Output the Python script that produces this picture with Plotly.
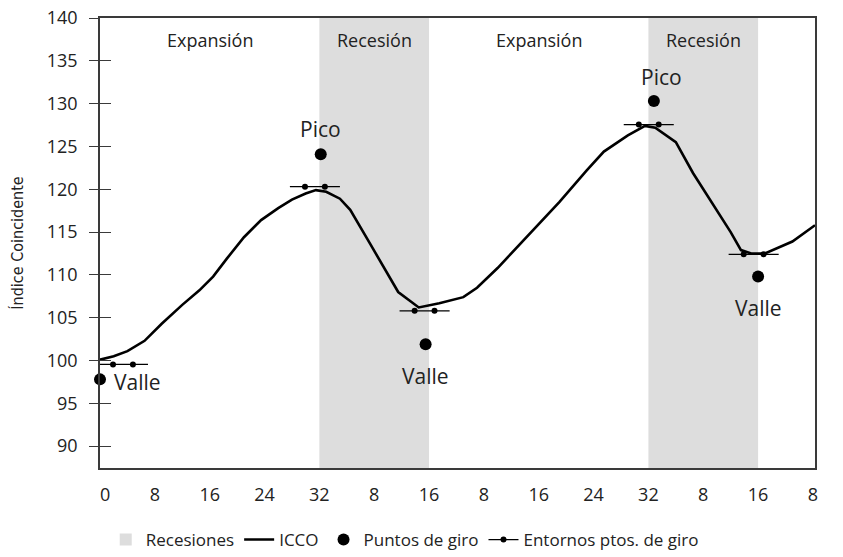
import plotly.graph_objects as go

# ---------------- data ----------------
tick_vals = [0, 8, 16, 24, 32, 40, 48, 56, 64, 72, 80, 88, 96, 104]
tick_text = ["0", "8", "16", "24", "32", "8", "16", "8", "16", "24", "32", "8", "16", "8"]

icco_x = [0, 2, 4, 6.5, 9, 12, 14.5, 16.5, 18.5, 21, 23.5, 26, 28, 30, 31.5, 33, 35, 36.5,
          39.5, 41.5, 43.5, 46.5, 49.5, 53, 55, 58, 61, 64, 67, 71, 73.5, 77, 79.5, 81,
          84, 86.5, 89.5, 92, 93.5, 95, 97, 101, 104.3]
icco_y = [100.1, 100.5, 101.1, 102.3, 104.3, 106.5, 108.2, 109.8, 111.9, 114.4, 116.4, 117.8,
          118.8, 119.5, 119.9, 119.7, 118.9, 117.6, 113.5, 110.8, 108.0, 106.2, 106.7, 107.4,
          108.5, 110.8, 113.4, 116.0, 118.5, 122.2, 124.4, 126.3, 127.4, 127.2, 125.5, 121.9,
          118.2, 115.0, 112.9, 112.5, 112.5, 113.9, 115.8]

giro_x = [0, 32.2, 47.5, 80.8, 96]
giro_y = [97.8, 124.1, 101.9, 130.3, 109.8]
giro_labels = ["Valle", "Pico", "Valle", "Pico", "Valle"]

entorno_left = [1.9, 29.9, 45.9, 78.6, 93.9]
entorno_right = [4.8, 32.8, 48.8, 81.5, 96.8]
entorno_y = [99.55, 120.3, 105.8, 127.55, 112.4]

recession_start = [32, 80]
recession_end = [48, 96]

phase_names = ["Expansión", "Recesión", "Expansión", "Recesión"]
phase_start = [0, 32, 48, 80]
phase_end = [32, 48, 80, 96]

# ---------------- style ----------------
FONT = "Open Sans, Noto Sans, sans-serif"
TXT = "#222222"
AX = "#3a3a3a"
SHADE = "#dddddd"
EXT = 2.2  # length of the tick segments beyond the environment dots (x units)
label_offsets = [(37, -3), (0, 25), (0, -32), (8, 24), (0, -31)]

# first tick label sits a little right of the axis line
shown_ticks = ["\u2007" + t if i == 0 else t for i, t in enumerate(tick_text)]

fig = go.Figure()

for i, (a, b) in enumerate(zip(recession_start, recession_end)):
    fig.add_shape(type="rect", xref="x", yref="paper", x0=a, x1=b, y0=0, y1=1,
                  fillcolor=SHADE, line=dict(width=0), layer="below",
                  showlegend=(i == 0), name="Recesiones", legendrank=1)

fig.add_trace(go.Scatter(x=icco_x, y=icco_y, mode="lines", name="ICCO",
                         line=dict(color="black", width=2.6), legendrank=2))

fig.add_trace(go.Scatter(x=giro_x, y=giro_y, mode="markers", name="Puntos de giro",
                         marker=dict(color="black", size=12), legendrank=3,
                         cliponaxis=False))

for l, r, y in zip(entorno_left, entorno_right, entorno_y):
    fig.add_trace(go.Scatter(x=[l - EXT, l, r, r + EXT], y=[y] * 4, mode="lines",
                             line=dict(color="black", width=1.3), showlegend=False,
                             hoverinfo="skip", cliponaxis=False))
fig.add_trace(go.Scatter(x=entorno_left + entorno_right, y=entorno_y + entorno_y,
                         mode="markers", marker=dict(color="black", size=6),
                         showlegend=False, cliponaxis=False))
fig.add_trace(go.Scatter(x=[None], y=[None], mode="lines+markers",
                         name="Entornos ptos. de giro", yaxis="y2",
                         line=dict(color="black", width=1.3),
                         marker=dict(color="black", size=6), legendrank=4))

for (x, y, t), (dx, dy) in zip(zip(giro_x, giro_y, giro_labels), label_offsets):
    fig.add_annotation(x=x, y=y, text=t, showarrow=False, xshift=dx, yshift=dy,
                       font=dict(family=FONT, size=21, color=TXT),
                       xanchor="center", yanchor="middle")

for name, a, b in zip(phase_names, phase_start, phase_end):
    fig.add_annotation(x=(a + b) / 2, y=0.951, xref="x", yref="paper", text=name,
                       showarrow=False, font=dict(family=FONT, size=18, color=TXT),
                       xanchor="center", yanchor="middle")

fig.update_layout(
    width=843, height=557,
    margin=dict(l=100, r=28, t=18, b=89, autoexpand=False),
    paper_bgcolor="white", plot_bgcolor="white",
    font=dict(family=FONT, size=18, color=TXT),
    showlegend=True,
    legend=dict(orientation="h", x=0.008, xanchor="left", y=-0.16, yanchor="middle",
                font=dict(family=FONT, size=17, color=TXT), bgcolor="rgba(0,0,0,0)",
                itemwidth=30, tracegroupgap=0),
    xaxis=dict(range=[0, 104.3], tickvals=tick_vals, ticktext=shown_ticks,
               showline=True, mirror=True, linecolor=AX, linewidth=1.5,
               ticks="", showgrid=False, zeroline=False, ticklabelstandoff=10,
               automargin=False, ticklabeloverflow="allow",
               tickfont=dict(family=FONT, size=18, color=TXT)),
    yaxis=dict(range=[87.45, 140], tickvals=list(range(90, 141, 5)),
               showline=True, mirror=True, linecolor=AX, linewidth=1.5,
               ticks="outside", ticklen=9, tickwidth=1.3, tickcolor=AX,
               showgrid=False, zeroline=False, ticklabelstandoff=8,
               automargin=False, ticklabeloverflow="allow",
               tickfont=dict(family=FONT, size=18, color=TXT),
               title=dict(text="Índice Coincidente", standoff=19,
                          font=dict(family="Liberation Sans Narrow, DejaVu Sans Condensed, sans-serif",
                                    size=16, color=TXT))),
    yaxis2=dict(range=[87.45, 140], overlaying="y", side="left", matches="y",
                tickvals=list(range(90, 141, 5)), ticks="inside", ticklen=11,
                tickwidth=1.3, tickcolor=AX, showticklabels=False, showgrid=False,
                zeroline=False, showline=False, automargin=False),
)

# drop the browser's default 8 px page margin so the figure fills the window
fig.write_html("out.html", config={"displayModeBar": False},
               post_script="document.body.style.margin='0px';")
